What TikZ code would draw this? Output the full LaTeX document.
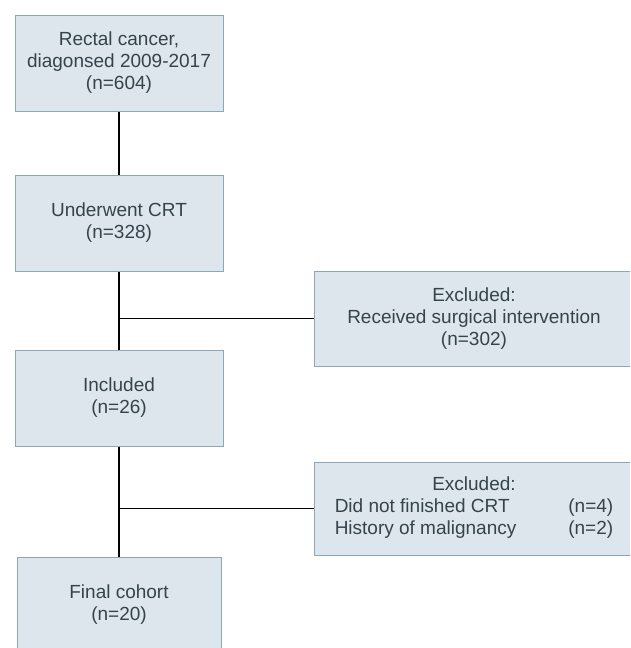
\documentclass[tikz,border=0pt]{standalone}
\usepackage{fontspec}
\setmainfont{Liberation Sans}
\definecolor{boxfill}{HTML}{DCE6EC}
\definecolor{boxline}{HTML}{8FA6B5}
\definecolor{txt}{HTML}{36434D}
\begin{document}
\begin{tikzpicture}[x=1pt,y=-1pt,
  box/.style={draw=boxline,fill=boxfill,line width=1pt,text=txt,align=center,
    font=\fontsize{19}{22}\selectfont,inner sep=0pt},
  conn/.style={draw=black,line width=1.3pt}]
\useasboundingbox (0,0) rectangle (630,648);
\clip (0,0) rectangle (630,648);
\node[box,minimum width=208,minimum height=96] (b1) at (119,63) {Rectal cancer,\\diagonsed 2009-2017\\(n=604)};
\node[box,minimum width=208,minimum height=96] (b2) at (119,223) {Underwent CRT\\(n=328)};
\node[box,minimum width=208,minimum height=96] (b3) at (119,398) {Included\\(n=26)};
\node[box,minimum width=204,minimum height=96] (b4) at (119,605) {Final cohort\\(n=20)};
\node[box,minimum width=320,minimum height=95] (e1) at (474,318.5) {Excluded:\\Received surgical intervention\\(n=302)};
\node[box,minimum width=320,minimum height=93] (e2) at (474,508.5) {%
  \begin{tabular}{@{}l@{\hspace{52pt}}l@{}}\multicolumn{2}{c}{Excluded:}\\Did not finished CRT & (n=4)\\ History of malignancy & (n=2)\end{tabular}};
\draw[conn] (b1.south) -- (b2.north);
\draw[conn] (b2.south) -- (b3.north);
\draw[conn] (b3.south) -- (b4.north);
\draw[conn] (e1.west) -- (e1.west -| b2.south);
\draw[conn] (e2.west) -- (e2.west -| b3.south);
\end{tikzpicture}
\end{document}
